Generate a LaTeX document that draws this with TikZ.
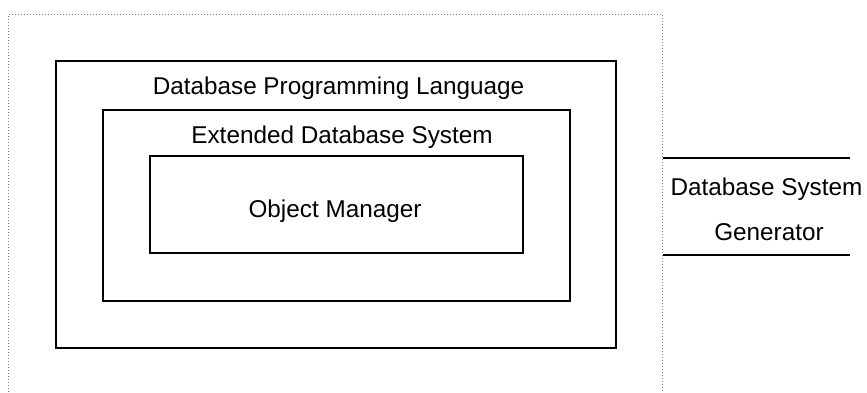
\documentclass[tikz,border=0pt]{standalone}
\usepackage{fontspec}
\setmainfont{Liberation Sans}
\begin{document}
\begin{tikzpicture}[x=1pt, y=-1pt, line width=1.8pt,
  layer/.style={draw, rectangle, inner sep=0pt},
  caption/.style={anchor=base, inner sep=0pt, font=\fontsize{24.3}{29}\selectfont}]
  \useasboundingbox (0,0) rectangle (867,392);
  % dotted frame, open at the bottom
  \draw[gray, line width=1pt, dotted] (8,392) -- (8,14.5) -- (662,14.5) -- (662,392);

  \node[layer, minimum width=560pt, minimum height=287pt] (dpl) at (336,204.5) {};
  \node[layer, minimum width=467pt, minimum height=191pt] (eds) at (336.5,205.5) {};
  \node[layer, minimum width=373pt, minimum height=97pt] (om) at (336.5,204.5) {};

  \node[caption] (dpllabel) at (338.5,94.5) {Database Programming Language};
  \node[caption] (edslabel) at (342,143.5) {Extended Database System};
  \node[caption] (omlabel) at (335,217.5) {Object Manager};

  \coordinate (gentopl) at (663,158);
  \coordinate (gentopr) at (850,158);
  \coordinate (genbotl) at (663,255);
  \coordinate (genbotr) at (850,255);
  \draw[line width=1.3pt] (gentopl) -- (gentopr);
  \draw[line width=1.3pt] (genbotl) -- (genbotr);
  \node[caption] (gen1) at (766.5,195.5) {Database System};
  \node[caption] (gen2) at (769,240.5) {Generator};
\end{tikzpicture}
\end{document}
